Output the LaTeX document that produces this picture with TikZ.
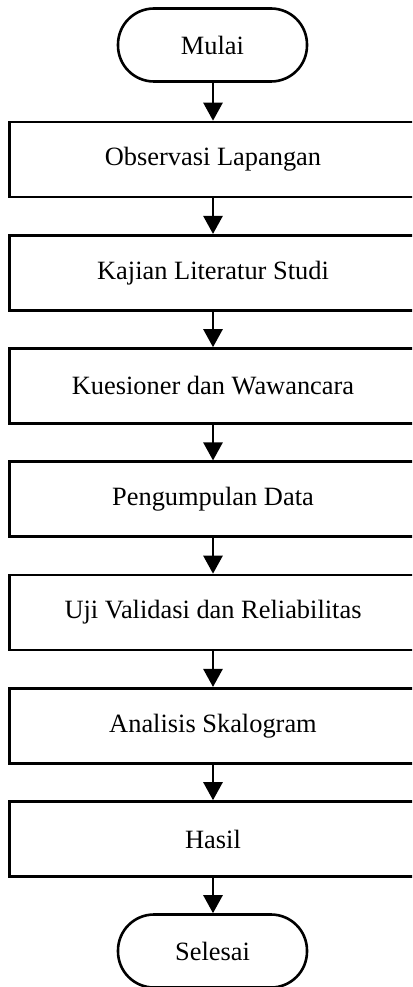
\documentclass[tikz,border=0pt]{standalone}
\usepackage{fontspec}
\setmainfont{Liberation Serif}
\usetikzlibrary{arrows.meta}
\begin{document}
\begin{tikzpicture}[x=1pt,y=-1pt,
  every node/.style={font=\fontsize{26.4}{30}\selectfont},
  term/.style={draw, line width=2.6pt, rounded corners=36pt, minimum width=189pt, minimum height=73pt, inner sep=0pt},
  procbox/.style={draw, line width=2.6pt, minimum width=407pt, minimum height=75pt, inner sep=0pt},
  flow/.style={line width=2.6pt, -{Triangle[length=18pt,width=19pt]}}]
\useasboundingbox (0,0) rectangle (412,987);
\clip (0,0) rectangle (412,987);
\node[term] (start) at (212.5,45) {Mulai};
\node[procbox] (r1) at (213,159.5) {Observasi Lapangan};
\node[procbox] (r2) at (213,272.75) {Kajian Literatur Studi};
\node[procbox] (r3) at (213,386) {Kuesioner dan Wawancara};
\node[procbox] (r4) at (213,499.25) {Pengumpulan Data};
\node[procbox] (r5) at (213,612.5) {Uji Validasi dan Reliabilitas};
\node[procbox] (r6) at (213,725.75) {Analisis Skalogram};
\node[procbox] (r7) at (213,839) {Hasil};
\node[term] (stop) at (212.5,951) {Selesai};
\draw[flow] (start.south -| r1.north) -- (r1.north);
\draw[flow] (r1) -- (r2);
\draw[flow] (r2) -- (r3);
\draw[flow] (r3) -- (r4);
\draw[flow] (r4) -- (r5);
\draw[flow] (r5) -- (r6);
\draw[flow] (r6) -- (r7);
\draw[flow] (r7.south) -- (r7.south |- stop.north);
\end{tikzpicture}
\end{document}
